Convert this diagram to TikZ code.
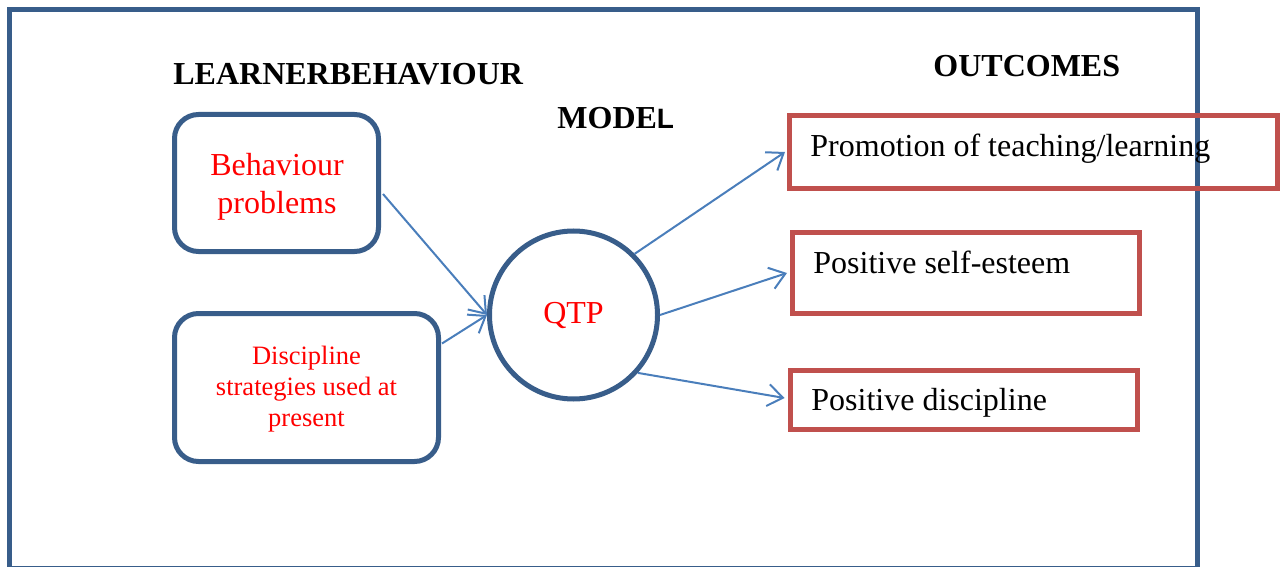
\documentclass[tikz,border=0pt]{standalone}
\usepackage{fontspec}
\setmainfont{Liberation Serif}
\newfontfamily\sansbold{Liberation Sans}
\usetikzlibrary{arrows.meta,calc}
\definecolor{frameblue}{HTML}{385D8A}
\definecolor{boxred}{HTML}{C0504D}
\definecolor{arrowblue}{HTML}{4A7EBB}
\begin{document}
\begin{tikzpicture}[x=0.5pt,y=-0.5pt,
 frame/.style={draw=frameblue,line width=2.5pt},
 roundbox/.style={draw=frameblue,line width=2.5pt,rounded corners=12pt,inner sep=0pt},
 boxtext/.style={align=center,text=red,inner sep=0pt},
 circbox/.style={draw=frameblue,line width=2.5pt,circle,text=red,inner sep=0pt,minimum size=84pt,font=\fontsize{16}{19}\selectfont},
 outbox/.style={draw=boxred,line width=2.5pt,inner sep=0pt},
 outtext/.style={anchor=base west,font=\fontsize{16}{19}\selectfont,inner sep=0pt},
 heading/.style={anchor=base west,font=\fontsize{16}{19}\selectfont\bfseries,inner sep=0pt},
 conn/.style={draw=arrowblue,line width=1pt,-{Straight Barb[length=7.5pt,width=11pt]}}]
\useasboundingbox (0,0) rectangle (1280,567);
\clip (0,0) rectangle (1280,567);
\draw[frame] (9.5,10) rectangle (1197,568);
% headings
\node[heading] (hlearner) at (173,85) {LEARNERBEHAVIOUR};
\node[heading] (hout) at (933,77) {OUTCOMES};
\node[heading] (hmodel) at (557,129) {MODE{\sansbold\fontsize{14}{16}\selectfont L}};
% left boxes
\node[roundbox,minimum width=102pt,minimum height=68.5pt] (b1) at (276.5,183) {};
\node[boxtext,font=\fontsize{16}{19}\selectfont] (t1) at (277,187) {Behaviour\\problems};
\node[roundbox,minimum width=132pt,minimum height=74pt] (b2) at (306.5,387.5) {};
\node[boxtext,font=\fontsize{13.25}{15.5}\selectfont] (t2) at (306.5,389) {Discipline\\strategies used at\\present};
% circle
\node[circbox] (qtp) at (573.5,315) {QTP};
% outcome boxes
\node[outbox,minimum width=244pt,minimum height=36pt] (oA) at (1033.5,152) {};
\node[outbox,minimum width=173.5pt,minimum height=40.5pt] (oB) at (966,273) {};
\node[outbox,minimum width=173.5pt,minimum height=29.5pt] (oC) at (963.5,400) {};
\node[outtext] (tA) at (810,156) {Promotion of teaching/learning};
\node[outtext] (tB) at (813,273) {Positive self-esteem};
\node[outtext] (tC) at (811,410) {Positive discipline};
% connectors
\draw[conn] ($(b1.east)+(2,11)$) -- (qtp.west);
\draw[conn] ($(b2.east)+(1,-44)$) -- (qtp.west);
\draw[conn] (qtp.45) -- ($(oA.west)+(-2,0)$);
\draw[conn] (qtp.east) -- ($(oB.west)+(-3,0)$);
\draw[conn] (qtp.-42) -- ($(oC.west)+(-3,-2)$);
\end{tikzpicture}
\end{document}
